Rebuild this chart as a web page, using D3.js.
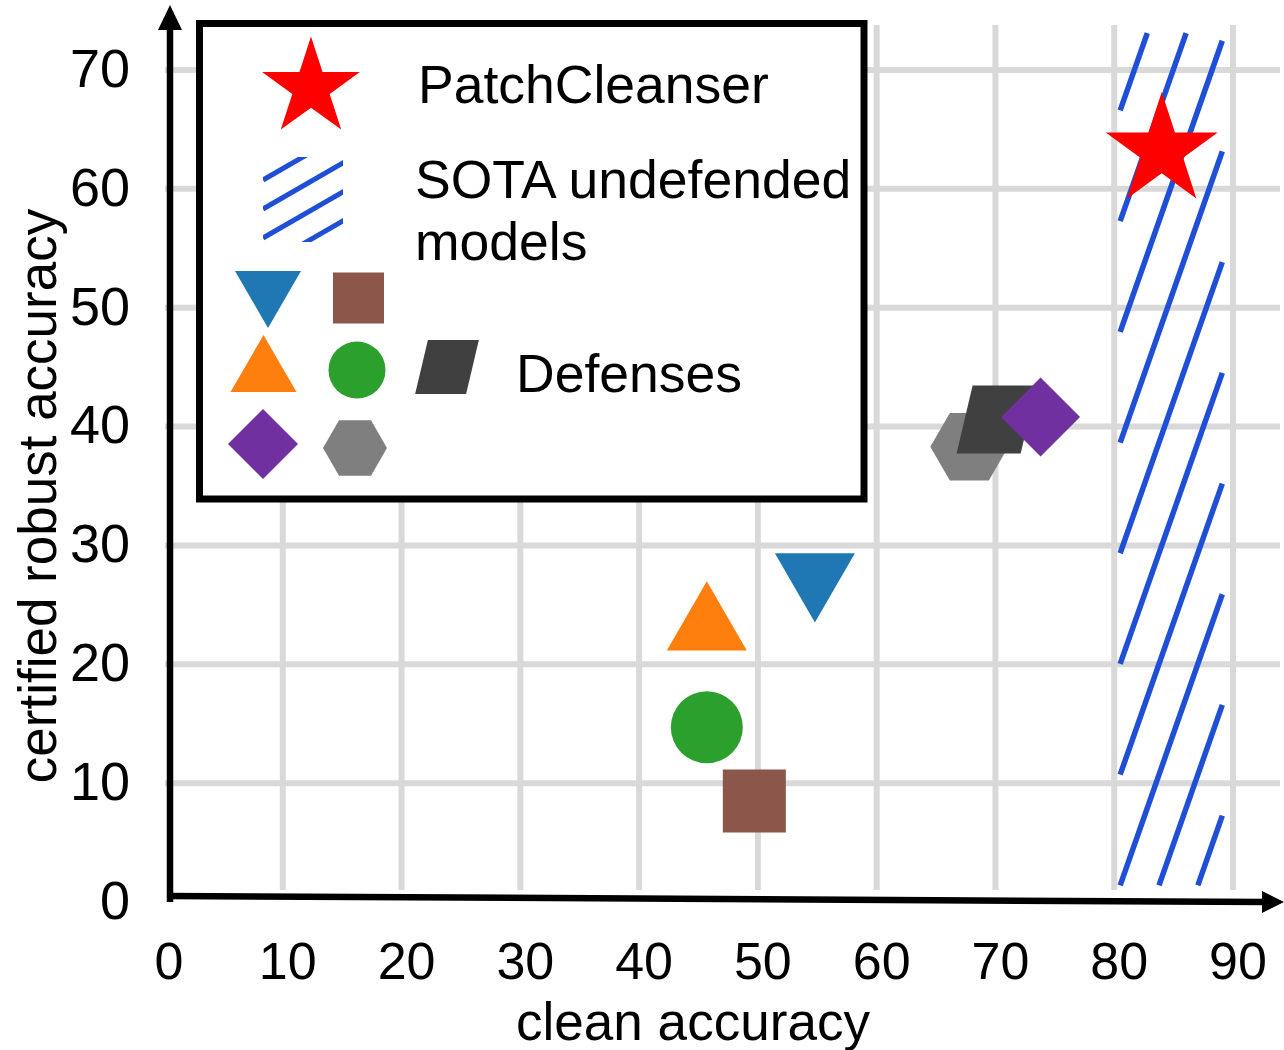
<!DOCTYPE html>
<html>
<head>
<meta charset="utf-8">
<script src="https://cdn.jsdelivr.net/npm/d3@7"></script>
<style>
  body { margin: 0; background: #fff; }
  text { font-family: "Liberation Sans", Arial, sans-serif; fill: #000; }
</style>
</head>
<body>
<div id="chart"></div>
<script>
// ---- data ----
const defenseShapes = ["triangleDown", "triangleUp", "circle", "square", "hexagon", "parallelogram", "diamond"];
const defenseClean = [54.8, 45.7, 45.7, 49.7, 67.8, 70.1, 73.8];
const defenseRobust = [27.4, 23.1, 14.7, 8.5, 38.3, 40.6, 40.8];
const oursClean = [84.0];
const oursRobust = [63.2];
const sotaClean = [80.5, 89.1];   // hatched band, clean accuracy range
const sotaRobust = [1.4, 73.1];   // hatched band, robust accuracy range
const xTicks = [0, 10, 20, 30, 40, 50, 60, 70, 80, 90];
const yTicks = [0, 10, 20, 30, 40, 50, 60, 70];

// ---- styles ----
const colors = {
    triangleDown: "#1f77b4", triangleUp: "#ff7f0e", circle: "#2ca02c", square: "#8c564b",
    hexagon: "#7f7f7f", parallelogram: "#404040", diamond: "#7030a0", star: "#ff0000"
};
const plotSize = {
    triangleDown: 2771, triangleUp: 2771, circle: 4072, square: 3969,
    hexagon: 3952, parallelogram: 4352, diamond: 3120, star: 3894
};
const legendSize = {
    triangleDown: 1886, triangleUp: 1886, circle: 2552, square: 2601,
    hexagon: 2660, parallelogram: 2754, diamond: 2450, star: 2966
};
const gridColor = "#d9d9d9";
const hatchColor = "#1f4fd6";

// ---- custom symbol types ----
const sqrt3 = Math.sqrt(3);
const symbolTriangleDown = {
    draw(context, size) {
        const y = Math.sqrt(size / (sqrt3 * 3));
        context.moveTo(0, y * 2);
        context.lineTo(sqrt3 * y, -y);
        context.lineTo(-sqrt3 * y, -y);
        context.closePath();
    }
};
const symbolDiamondSquare = {
    draw(context, size) {
        const h = Math.sqrt(size / 2);
        context.moveTo(0, -h);
        context.lineTo(h, 0);
        context.lineTo(0, h);
        context.lineTo(-h, 0);
        context.closePath();
    }
};
const symbolHexagon = {
    draw(context, size) {
        const r = Math.sqrt(size / (1.5 * sqrt3));
        for (let i = 0; i < 6; i++) {
            const a = i * Math.PI / 3;
            if (i === 0) context.moveTo(r * Math.cos(a), r * Math.sin(a));
            else context.lineTo(r * Math.cos(a), r * Math.sin(a));
        }
        context.closePath();
    }
};
const symbolParallelogram = {
    draw(context, size) {
        const w = Math.sqrt(size / 1.06), h = 1.06 * w, s = 0.25 * w;
        context.moveTo(-w / 2 + s / 2, -h / 2);
        context.lineTo(w / 2 + s / 2, -h / 2);
        context.lineTo(w / 2 - s / 2, h / 2);
        context.lineTo(-w / 2 - s / 2, h / 2);
        context.closePath();
    }
};
const symbolTypes = {
    triangleDown: symbolTriangleDown, triangleUp: d3.symbolTriangle, circle: d3.symbolCircle,
    square: d3.symbolSquare, hexagon: symbolHexagon, parallelogram: symbolParallelogram,
    diamond: symbolDiamondSquare, star: d3.symbolStar
};
const shapePath = (shape, size) => d3.symbol().type(symbolTypes[shape]).size(size)();

// ---- svg ----
const width = 1284;
const height = 1050;

const svg = d3.select("#chart")
    .append("svg")
    .attr("width", width)
    .attr("height", height);

const xScale = d3.scaleLinear().domain([0, 90]).range([164, 1233]);
const yScale = d3.scaleLinear().domain([0, 70]).range([902, 70]);

// grid lines
svg.append("g")
    .selectAll("line")
    .data(xTicks.filter(d => d > 0))
    .enter()
    .append("line")
    .attr("x1", d => xScale(d))
    .attr("x2", d => xScale(d))
    .attr("y1", 25)
    .attr("y2", 890)
    .attr("stroke", gridColor)
    .attr("stroke-width", 6);

svg.append("g")
    .selectAll("line")
    .data(yTicks.filter(d => d > 0))
    .enter()
    .append("line")
    .attr("x1", 165)
    .attr("x2", 1280)
    .attr("y1", d => yScale(d))
    .attr("y2", d => yScale(d))
    .attr("stroke", gridColor)
    .attr("stroke-width", 6);

// hatched band of SOTA undefended models: parallel segments cut to the band
const bx0 = xScale(sotaClean[0]), bx1 = xScale(sotaClean[1]);
const by0 = yScale(sotaRobust[1]), by1 = yScale(sotaRobust[0]);
const slope = 2.85, step = 110.7;
const hatchSegments = d3.range(-3, 9).map(k => {
    const yLeft = by1 - k * step;              // where the line meets the left edge
    const xAt = y => bx0 + (yLeft - y) / slope;
    const xa = Math.max(bx0, xAt(by1));
    const xb = Math.min(bx1, xAt(by0));
    return { x1: xa, y1: yLeft - slope * (xa - bx0), x2: xb, y2: yLeft - slope * (xb - bx0) };
}).filter(s => s.x2 > s.x1 + 1);

svg.append("g")
    .selectAll("line")
    .data(hatchSegments)
    .enter()
    .append("line")
    .attr("x1", d => d.x1)
    .attr("y1", d => d.y1)
    .attr("x2", d => d.x2)
    .attr("y2", d => d.y2)
    .attr("stroke", hatchColor)
    .attr("stroke-width", 5.5);

// axes
svg.append("line")
    .attr("x1", xScale(0) + 6).attr("y1", yScale(0))
    .attr("x2", xScale(0) + 6).attr("y2", 26)
    .attr("stroke", "#000").attr("stroke-width", 6.5);
svg.append("path")
    .attr("d", `M${xScale(0) - 6},30 L${xScale(0) + 18},30 L${xScale(0) + 6},5 Z`)
    .attr("fill", "#000");

svg.append("line")
    .attr("x1", xScale(0) + 3).attr("y1", yScale(0) - 6)
    .attr("x2", 1266).attr("y2", yScale(0))
    .attr("stroke", "#000").attr("stroke-width", 6.5);
svg.append("path")
    .attr("d", `M1262,${yScale(0) - 11} L1284,${yScale(0)} L1262,${yScale(0) + 11} Z`)
    .attr("fill", "#000");

// tick labels
svg.append("g")
    .selectAll("text")
    .data(xTicks)
    .enter()
    .append("text")
    .attr("x", d => xScale(d) + 5)
    .attr("y", 979)
    .attr("text-anchor", "middle")
    .attr("font-size", 52)
    .text(d => d);

svg.append("g")
    .selectAll("text")
    .data(yTicks)
    .enter()
    .append("text")
    .attr("x", 130)
    .attr("y", d => yScale(d) - 2)
    .attr("dy", "0.35em")
    .attr("text-anchor", "end")
    .attr("font-size", 54)
    .text(d => d);

// axis titles
svg.append("text")
    .attr("x", 693)
    .attr("y", 1040)
    .attr("text-anchor", "middle")
    .attr("font-size", 54)
    .attr("textLength", 354)
    .attr("lengthAdjust", "spacingAndGlyphs")
    .text("clean accuracy");

svg.append("text")
    .attr("transform", "translate(56,496) rotate(-90)")
    .attr("text-anchor", "middle")
    .attr("font-size", 53)
    .text("certified robust accuracy");

// data points
svg.append("g")
    .selectAll("path")
    .data(defenseShapes)
    .enter()
    .append("path")
    .attr("d", d => shapePath(d, plotSize[d]))
    .attr("transform", (d, i) => `translate(${xScale(defenseClean[i])},${yScale(defenseRobust[i])})`)
    .attr("fill", d => colors[d]);

svg.append("g")
    .selectAll("path")
    .data(oursClean)
    .enter()
    .append("path")
    .attr("d", shapePath("star", plotSize.star))
    .attr("transform", (d, i) => `translate(${xScale(d)},${yScale(oursRobust[i])})`)
    .attr("fill", colors.star);

// legend
const legend = svg.append("g");
legend.append("rect")
    .attr("x", 199.5).attr("y", 23.5)
    .attr("width", 664.5).attr("height", 475.5)
    .attr("fill", "#fff")
    .attr("stroke", "#000")
    .attr("stroke-width", 7);

legend.append("path")
    .attr("d", shapePath("star", legendSize.star))
    .attr("transform", "translate(311,88)")
    .attr("fill", colors.star);

legend.append("clipPath")
    .attr("id", "legendHatchClip")
    .append("rect")
    .attr("x", 263).attr("y", 157).attr("width", 80).attr("height", 85);
legend.append("g")
    .attr("clip-path", "url(#legendHatchClip)")
    .selectAll("line")
    .data(d3.range(0, 4))
    .enter()
    .append("line")
    .attr("x1", 263)
    .attr("y1", k => 180 + k * 29)
    .attr("x2", 350)
    .attr("y2", k => 180 + k * 29 - 0.577 * 87)
    .attr("stroke", hatchColor)
    .attr("stroke-width", 5);

const legendDefensePos = {
    triangleDown: [268, 290], square: [358.5, 298], triangleUp: [263.5, 373],
    circle: [357, 370], parallelogram: [447, 367], diamond: [263, 444], hexagon: [355, 448]
};
legend.append("g")
    .selectAll("path")
    .data(defenseShapes)
    .enter()
    .append("path")
    .attr("d", d => shapePath(d, legendSize[d]))
    .attr("transform", d => `translate(${legendDefensePos[d][0]},${legendDefensePos[d][1]})`)
    .attr("fill", d => colors[d]);

const legendTexts = [
    { text: "PatchCleanser", x: 418, y: 103 },
    { text: "SOTA undefended", x: 415, y: 198 },
    { text: "models", x: 415, y: 260 },
    { text: "Defenses", x: 516, y: 392 }
];
legend.selectAll(".legendLabel")
    .data(legendTexts)
    .enter()
    .append("text")
    .attr("class", "legendLabel")
    .attr("x", d => d.x)
    .attr("y", d => d.y)
    .attr("font-size", 53.5)
    .text(d => d.text);
</script>
</body>
</html>
